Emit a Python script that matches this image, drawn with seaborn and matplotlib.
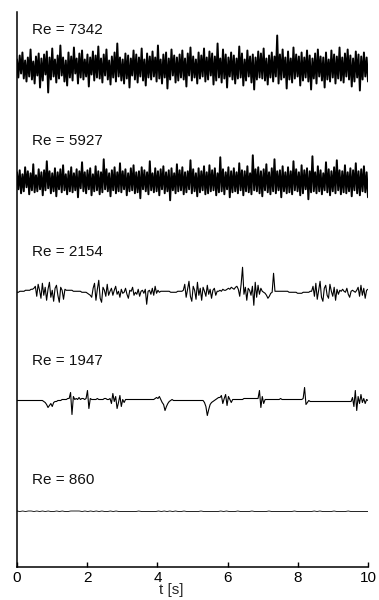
import numpy as np
import pandas as pd
import matplotlib
matplotlib.use("Agg")
import matplotlib.pyplot as plt
import seaborn as sns

# ---------------- data (velocity fluctuation, arbitrary units) ----------------
reynolds = ["7342", "5927", "2154", "1947", "860"]

u_7342 = [8,-10,12,-6,15,-11,7,-14,10,-9,18,-12,6,-16,11,-8,14,-20,9,-13,
          13,-7,16,-25,10,-12,19,-9,8,-15,12,-11,22,-8,10,-14,7,-18,15,-10,
          11,-13,20,-6,9,-16,14,-10,17,-12,8,-9,13,-19,10,-7,16,-13,12,-10,
          21,-11,9,-15,13,-8,18,-12,7,-17,11,-10,15,-14,24,-9,10,-13,8,-16,
          14,-11,12,-20,9,-8,17,-12,13,-15,10,-9,19,-13,8,-18,14,-10,11,-12,
          16,-9,10,-14,22,-11,8,-16,13,-10,15,-21,9,-12,18,-8,12,-15,10,-13,
          13,-10,17,-12,9,-19,14,-8,20,-13,11,-10,8,-16,15,-11,12,-9,19,-14,
          10,-12,16,-8,14,-17,11,-13,24,-10,9,-15,18,-11,13,-20,10,-9,15,-12,
          12,-16,9,-11,21,-10,14,-18,8,-13,17,-9,11,-15,13,-22,10,-12,16,-10,
          14,-11,19,-13,9,-17,12,-10,15,-14,11,-9,32,-16,13,-12,18,-10,10,-21,
          16,-12,9,-15,20,-11,13,-9,11,-18,15,-13,10,-10,17,-14,12,-22,9,-11,
          14,-16,18,-9,11,-13,10,-20,15,-12,8,-14,17,-10,13,-16,11,-11,20,-13,
          10,-15,14,-9,18,-12,12,-19,9,-14,16,-10,13,-23,11,-12,15,-9,10,-14]

u_5927 = [9,-8,11,-12,7,-10,14,-6,10,-13,8,-9,17,-11,6,-10,12,-8,9,-14,
          11,-9,20,-7,10,-12,8,-10,13,-15,9,-8,12,-11,16,-9,7,-13,10,-10,
          14,-11,8,-9,12,-16,10,-7,19,-10,9,-12,11,-8,13,-14,7,-10,15,-9,
          10,-13,9,-11,22,-8,12,-10,8,-15,11,-9,14,-12,9,-10,18,-11,10,-8,
          12,-14,8,-10,13,-9,16,-12,9,-11,10,-17,14,-8,11,-10,9,-13,20,-9,
          8,-11,13,-10,10,-14,12,-8,15,-12,9,-10,11,-19,13,-9,8,-12,17,-10,
          11,-9,14,-13,9,-11,10,-8,21,-12,12,-10,8,-15,13,-11,10,-9,15,-13,
          9,-12,16,-10,11,-9,13,-14,8,-11,24,-10,12,-13,9,-8,14,-16,10,-11,
          13,-10,9,-12,18,-9,11,-14,10,-10,15,-11,8,-13,26,-9,12,-10,14,-12,
          10,-15,12,-9,17,-11,9,-13,13,-10,22,-12,10,-9,11,-16,15,-10,9,-12,
          14,-11,10,-13,20,-9,12,-10,9,-14,16,-12,11,-8,13,-18,10,-11,25,-10,
          9,-12,15,-10,11,-13,8,-9,19,-11,12,-14,10,-10,14,-12,21,-9,11,-13,
          10,-11,16,-12,9,-10,13,-15,11,-9,18,-12,10,-14,12,-10,15,-11,9,-16]

u_2154 = [0,0,1,1,1,1,2,2,2,2,3,3,4,
          6,-4,8,2,-6,9,-3,5,-8,3,10,-5,2,-9,4,7,-3,-10,5,2,-7,3,
          2,2,2,2,2,1,1,1,1,1,1,0,0,0,0,-1,-2,-3,
          -5,4,9,-8,3,12,-6,-10,5,2,-4,8,-3,1,
          4,-3,2,6,-2,1,-5,3,-1,0,4,-2,-6,2,1,5,-3,0,-2,3,-4,1,
          2,-1,3,-12,1,2,-2,4,-3,6,-1,2,0,
          1,1,1,1,1,1,1,0,0,0,0,0,1,1,1,1,2,
          8,-5,3,11,-4,-9,6,2,-7,10,-3,4,-8,5,1,-4,7,-2,3,-6,2,4,-3,1,
          1,2,1,3,2,2,3,4,3,5,4,3,5,6,
          3,-4,8,25,-2,5,-8,4,2,-3,6,-13,10,-5,7,-2,4,1,
          0,-1,-3,-6,-4,-1,0,19,
          1,1,1,1,1,1,1,1,1,1,0,0,0,0,0,0,-1,-1,-1,-1,0,0,0,0,0,1,1,
          6,-4,9,-7,2,11,-5,-9,4,7,-3,-6,8,1,-4,5,-8,3,-2,2,
          1,3,1,0,4,-2,-5,1,2,1,0,2,
          5,-4,7,-3,4,-6,2,3]

u_1947 = [0,0,0,0,0,0,0,0,0,0,0,0,0,0,0,0,0,0,0,-1,
          -2,-4,-7,-5,-3,-6,-2,-1,
          -1,0,0,0,1,1,1,1,2,2,
          8,-14,4,1,
          2,1,3,1,2,2,1,2,
          10,-8,2,
          1,1,1,1,2,1,1,1,1,2,2,1,1,
          2,-3,7,-1,4,-8,-2,5,-6,1,-2,1,
          1,1,1,1,1,1,1,1,1,1,1,1,1,1,1,1,1,1,1,1,
          2,3,2,4,1,-2,-4,-10,-6,-3,-1,0,1,0,
          0,0,0,0,0,0,0,0,0,0,0,0,0,0,0,0,0,0,0,0,0,
          -2,-6,-15,-9,-4,-2,-1,0,
          1,2,3,3,
          5,-3,2,6,-5,4,1,-2,1,
          1,1,1,1,1,1,1,2,2,2,2,2,2,2,2,2,2,2,
          10,-7,4,-3,1,
          1,1,1,1,1,1,1,1,1,1,2,1,1,1,1,1,1,1,1,1,1,1,1,1,1,1,
          2,13,-4,-2,0,
          -1,-1,-1,-1,-1,-1,-1,-1,-1,-1,-1,-1,-1,-1,-1,-1,-1,-1,-1,-1,
          -1,-1,-1,-1,-1,-1,-1,-1,-1,-1,
          3,-6,10,-10,4,-3,6,-2,
          2,-3,1,0]

u_860 = [1,0,1,0,1,1,0,1,0,1,0,1,
         0,0,1,0,1,0,
         0,1,1,1,1,0,
         1,0,1,0,1,0,1,0,0,1,0,1,0,
         0,0,0,0,0,0,1,0,0,0,0,0,0,1,
         0,1,0,1,0,1,0,0,1,0,
         0,0,0,0,1,0,0,0, 0,0,0,1,0,1,0,0, 0,1,0,0,0,0,1,0,
         0,0,0,0,1,0,0,0, 0,0,0,0,0,1,0,0, 0,0,0,0,1,0,1,0,
         0,0,0,1,0,0,0,0, 1,0,0,0,0,0,0,0]

signals = [u_7342, u_5927, u_2154, u_1947, u_860]
x_ticks = [0, 2, 4, 6, 8, 10]
duration = 10.0

# ---------------- layout / style ----------------
offsets = [9.0, 6.95, 4.95, 3.0, 1.0]
label_y = [9.67, 7.68, 5.67, 3.71, 1.57]
amp_scale = [1 / 55.5, 1 / 55.5, 1 / 55.5, 1 / 55.5, 0.5 / 55.5]
line_widths = [1.4, 1.4, 0.8, 0.8, 0.6]

sns.set_style("ticks")
plt.rcParams["font.family"] = ["Liberation Sans", "DejaVu Sans"]

fig = plt.figure(figsize=(3.79, 6.0), dpi=100)
ax = fig.add_axes([17 / 379, 1 - 567 / 600, (368 - 17) / 379, (567 - 12) / 600])

for re, u, off, sc, lw in zip(reynolds, signals, offsets, amp_scale, line_widths):
    u = np.asarray(u, dtype=float)
    d = pd.DataFrame({"t": np.linspace(0, duration, len(u)), "y": off + u * sc})
    sns.lineplot(data=d, x="t", y="y", estimator=None, sort=False,
                 color="black", linewidth=lw, ax=ax, legend=False)

for re, ly in zip(reynolds, label_y):
    ax.text(0.43, ly, f"Re = {re}", ha="left", va="center", fontsize=11, color="#111111")

ax.set_xlim(0, duration)
ax.set_ylim(0, 10)
ax.set_xticks(x_ticks)
ax.set_xticklabels([str(v) for v in x_ticks], fontsize=11)
ax.set_yticks([])
ax.set_ylabel("")
ax.set_xlabel("t [s]", fontsize=11, labelpad=0)
ax.xaxis.set_label_coords(0.44, -0.028)
ax.tick_params(axis="x", direction="in", length=3.5, width=1.0, pad=3, colors="black")
for s in ["top", "right"]:
    ax.spines[s].set_visible(False)
for s in ["left", "bottom"]:
    ax.spines[s].set_linewidth(1.1)
    ax.spines[s].set_color("black")
ax.set_facecolor("white")
fig.patch.set_facecolor("white")

fig.savefig("out.png", dpi=100, facecolor="white")
